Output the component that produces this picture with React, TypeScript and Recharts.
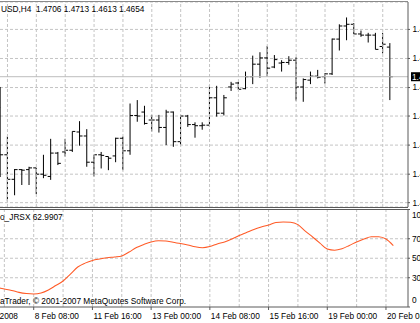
import { Bar, CartesianGrid, ComposedChart, Line, ReferenceLine, XAxis, YAxis } from "recharts";

// EURUSD H4, 7 Feb - 20 Feb 2008
const days = ["7 Feb", "8 Feb", "11 Feb", "12 Feb", "13 Feb", "14 Feb", "15 Feb", "18 Feb", "19 Feb", "20 Feb"];
const hours = ["00:00", "04:00", "08:00", "12:00", "16:00", "20:00"];
const firstBar = "7 Feb 12:00";

const open = [
  1.46, 1.4517, 1.4474, 1.4491, 1.4491, 1.4494, 1.4483, 1.4479, 1.452, 1.4522,
  1.4525, 1.4557, 1.455, 1.4504, 1.4517, 1.4514, 1.4515, 1.4546, 1.4524, 1.4586,
  1.4592, 1.4578, 1.4578, 1.4565, 1.4592, 1.454, 1.4585, 1.457, 1.4568, 1.4569,
  1.4617, 1.459, 1.4636, 1.4643, 1.4633, 1.4654, 1.4676, 1.4687, 1.4671, 1.4678,
  1.4679, 1.4683, 1.4636, 1.4648, 1.4655, 1.4654, 1.4659, 1.472, 1.4743, 1.4746,
  1.4729, 1.4727, 1.4727, 1.4707, 1.4706,
];
const high = [
  1.4636, 1.4549, 1.4492, 1.4492, 1.4496, 1.4494, 1.4517, 1.4545, 1.4522, 1.4545,
  1.4558, 1.4576, 1.4562, 1.4517, 1.4522, 1.4514, 1.4547, 1.4549, 1.4607, 1.4613,
  1.4603, 1.4587, 1.4587, 1.4596, 1.4593, 1.4587, 1.4587, 1.4574, 1.4574, 1.4639,
  1.4638, 1.4622, 1.4645, 1.4645, 1.4663, 1.4691, 1.4697, 1.4708, 1.4692, 1.4683,
  1.469, 1.4688, 1.4651, 1.4663, 1.4666, 1.466, 1.4721, 1.4746, 1.4758, 1.4748,
  1.4735, 1.4731, 1.4731, 1.4731, 1.4713,
];
const low = [
  1.4478, 1.4435, 1.4446, 1.4464, 1.4464, 1.4448, 1.4476, 1.4473, 1.4499, 1.4514,
  1.4522, 1.4533, 1.4496, 1.4479, 1.4493, 1.449, 1.4504, 1.449, 1.4517, 1.4575,
  1.457, 1.4558, 1.4556, 1.4534, 1.4531, 1.4534, 1.4566, 1.4547, 1.4561, 1.4566,
  1.4584, 1.4586, 1.4629, 1.4631, 1.4632, 1.4641, 1.4652, 1.4654, 1.4669, 1.4663,
  1.4675, 1.4612, 1.461, 1.4641, 1.4651, 1.4642, 1.4657, 1.47, 1.4718, 1.4729,
  1.4724, 1.4714, 1.4702, 1.4695, 1.4613,
];
const close = [
  1.4517, 1.4474, 1.4491, 1.449, 1.4494, 1.4483, 1.4481, 1.452, 1.4502, 1.4525,
  1.4558, 1.455, 1.4504, 1.4517, 1.4516, 1.4511, 1.4546, 1.4524, 1.4586, 1.4585,
  1.4572, 1.4578, 1.4565, 1.4592, 1.454, 1.4585, 1.457, 1.4568, 1.4569, 1.4617,
  1.459, 1.4617, 1.4641, 1.4632, 1.4654, 1.4676, 1.4687, 1.4669, 1.4684, 1.4679,
  1.4683, 1.4636, 1.4649, 1.4655, 1.4653, 1.4659, 1.472, 1.4743, 1.4746, 1.4729,
  1.4727, 1.4727, 1.4702, 1.4711, 1.4654,
];
const jrsx = [
  20.0, 18.5, 17.0, 15.0, 13.8, 13.3, 14.3, 17.4, 22.0, 26.7,
  33.8, 41.0, 45.0, 47.7, 49.2, 50.4, 51.3, 52.3, 56.4, 61.0,
  64.1, 66.7, 67.9, 67.7, 66.3, 65.1, 63.6, 61.7, 60.8, 62.0,
  64.6, 66.7, 69.7, 73.3, 76.4, 79.5, 82.0, 84.1, 86.7, 87.2,
  87.0, 84.5, 77.9, 71.8, 65.6, 59.5, 58.3, 59.8, 63.1, 66.7,
  69.7, 72.1, 72.0, 69.7, 62.9907,
];

const axisTicks = ["7 Feb 00:00", "8 Feb 08:00", "11 Feb 16:00", "13 Feb 00:00", "14 Feb 08:00", "15 Feb 16:00", "19 Feb 00:00", "20 Feb 08:00"];
const axisText = ["7 Feb 2008", "8 Feb 08:00", "11 Feb 16:00", "13 Feb 00:00", "14 Feb 08:00", "15 Feb 16:00", "19 Feb 00:00", "20 Feb 08:00"];
const priceTicks = [1.4433, 1.4483, 1.4534, 1.4585, 1.4635, 1.4686, 1.4737];
const jrsxTicks = [0, 30, 50, 70, 100];
const jrsxGrid = [30, 50, 70];

const times = days.flatMap((d) => hours.map((h) => `${d} ${h}`));
const first = times.indexOf(firstBar);
const last = close.length - 1;
const rows = times.map((t, i) => {
  const k = i - first;
  if (k < 0 || k > last) return { t };
  return { t, open: open[k], high: high[k], low: low[k], close: close[k], range: [low[k], high[k]], jrsx: jrsx[k] };
});
const gridTimes = times.filter((_, i) => (i - first) % 4 === 1);

const FONT = "'Liberation Sans', Arial, sans-serif";
const GRID = "#c4c4c4";
const FRAME = "#5a5a5a";

function OhlcShape(props: any) {
  const { x, y, width, height, payload } = props;
  if (payload == null || payload.high == null) return null;
  const top = Math.min(y, y + height);
  const span = Math.abs(height);
  const at = (p: number) => top + ((payload.high - p) / (payload.high - payload.low)) * span;
  const cx = x + width / 2;
  return (
    <g stroke="#000" strokeWidth={1}>
      <line x1={cx} x2={cx} y1={top} y2={top + span} />
      <line x1={cx - 3} x2={cx} y1={at(payload.open)} y2={at(payload.open)} />
      <line x1={cx} x2={cx + 3} y1={at(payload.close)} y2={at(payload.close)} />
    </g>
  );
}

function PriceTick({ x, y, payload }: any) {
  return (
    <text x={x + 0.5} y={y} dy="0.35em" fontSize={8.3} fill="#000">
      {payload.value.toFixed(4)}
    </text>
  );
}

function JrsxTick({ x, y, payload }: any) {
  const shift = payload.value === 100 ? 6 : payload.value === 0 ? -7 : 0;
  return (
    <text x={x} y={y + shift} dy="0.35em" fontSize={8.3} fill="#000">
      {payload.value}
    </text>
  );
}

function TimeTick({ x, y, payload }: any) {
  const idx = axisTicks.indexOf(payload.value);
  return (
    <text x={x + 1} y={y + 9} fontSize={8.3} fill="#000">
      {axisText[idx]}
    </text>
  );
}

function PriceTag(props: any) {
  const vb = props.viewBox;
  const right = vb.x + vb.width;
  return (
    <g>
      <rect x={right + 3} y={vb.y - 4.5} width={34} height={9} fill="#000" />
      <text x={right + 4} y={vb.y} dy="0.35em" fontSize={8.3} fill="#fff">
        {close[last].toFixed(4)}
      </text>
    </g>
  );
}

export default function App() {
  const lastBar = `${open[last].toFixed(4)} ${high[last].toFixed(4)} ${low[last].toFixed(4)} ${close[last].toFixed(4)}`;
  return (
    <div style={{ position: "fixed", left: 0, top: 0, width: 420, height: 323, overflow: "hidden", background: "#fff", fontFamily: FONT, color: "#000" }}>
      <div style={{ position: "absolute", left: -25, top: 0 }}>
        <ComposedChart width={445} height={208} data={rows} margin={{ top: 2, right: 0, bottom: 1, left: 0 }} barCategoryGap={0}>
          <CartesianGrid vertical={false} stroke={GRID} strokeDasharray="3 2" />
          {gridTimes.map((t) => (
            <ReferenceLine key={t} x={t} stroke={GRID} strokeDasharray="3 2" />
          ))}
          <XAxis dataKey="t" hide />
          <YAxis
            orientation="right"
            width={12}
            domain={[1.44254, 1.47851]}
            allowDataOverflow
            ticks={priceTicks}
            interval={0}
            tickSize={2}
            tickMargin={2}
            stroke={FRAME}
            tick={<PriceTick />}
          />
          <ReferenceLine y={close[last]} stroke="#bdbdbd" label={(p: any) => <PriceTag {...p} />} />
          <Bar dataKey="range" shape={(p: any) => <OhlcShape {...p} />} isAnimationActive={false} />
        </ComposedChart>
      </div>

      <div style={{ position: "absolute", left: -25, top: 200 }}>
        <ComposedChart width={445} height={123} data={rows} margin={{ top: 9, right: 0, bottom: 0, left: 0 }}>
          {jrsxGrid.map((v) => (
            <ReferenceLine key={v} y={v} stroke={GRID} strokeDasharray="3 2" />
          ))}
          {gridTimes.map((t) => (
            <ReferenceLine key={t} x={t} stroke={GRID} strokeDasharray="3 2" />
          ))}
          <XAxis
            dataKey="t"
            height={16}
            ticks={axisTicks}
            interval={0}
            tickSize={3}
            tickMargin={0}
            stroke={FRAME}
            tick={<TimeTick />}
          />
          <YAxis
            orientation="right"
            width={12}
            domain={[0, 100.5]}
            allowDataOverflow
            ticks={jrsxTicks}
            interval={0}
            tickSize={2}
            tickMargin={2}
            stroke={FRAME}
            tick={<JrsxTick />}
          />
          <Line dataKey="jrsx" type="monotone" stroke="#ff5a26" strokeWidth={1.05} dot={false} isAnimationActive={false} />
        </ComposedChart>
      </div>

      <div style={{ position: "absolute", left: 0, top: 1, width: 408, height: 1, background: "#8a8a8a" }} />
      <div style={{ position: "absolute", left: 0, top: 207, width: 408, height: 1, background: FRAME }} />
      <div style={{ position: "absolute", left: 0, top: 209, width: 408, height: 1, background: FRAME }} />

      <div style={{ position: "absolute", left: 1, top: 3.5, fontSize: 8.3, lineHeight: "10px", whiteSpace: "pre" }}>
        {`USD,H4  ${lastBar}`}
      </div>
      <div style={{ position: "absolute", left: 0, top: 212, fontSize: 8.3, lineHeight: "10px", whiteSpace: "pre" }}>
        {`o_JRSX ${jrsx[last].toFixed(4)}`}
      </div>
      <div style={{ position: "absolute", left: 0, top: 295.5, fontSize: 8.3, lineHeight: "10px", whiteSpace: "pre" }}>
        aTrader, © 2001-2007 MetaQuotes Software Corp.
      </div>
    </div>
  );
}
